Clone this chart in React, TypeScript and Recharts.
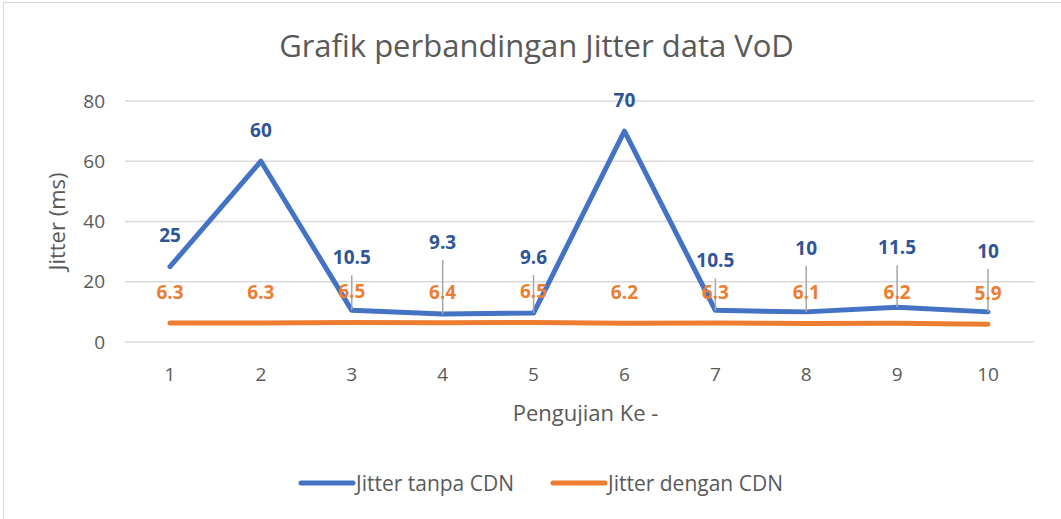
import { LineChart, Line, XAxis, YAxis, CartesianGrid, Legend, LabelList } from "recharts";

const pengujian = ["1", "2", "3", "4", "5", "6", "7", "8", "9", "10"];
const tanpaCdn = [25, 60, 10.5, 9.3, 9.6, 70, 10.5, 10, 11.5, 10];
const denganCdn = [6.3, 6.3, 6.5, 6.4, 6.5, 6.2, 6.3, 6.1, 6.2, 5.9];
const yTicks = [0, 20, 40, 60, 80];
const seriesNames = ["Jitter tanpa CDN", "Jitter dengan CDN"];

// how far above its point each blue label sits (px)
const blueLift = [32, 31, 53, 72, 56, 31, 50, 64, 60, 61];

const data = pengujian.map((name, i) => ({
  name,
  tanpa: tanpaCdn[i],
  dengan: denganCdn[i],
}));

const FONT = "'Open Sans', sans-serif";
const GREY = "#595959";

const BlueLabel = (props: any) => {
  const { x, y, value, index } = props;
  const lift = blueLift[index] ?? 32;
  const ly = y - lift;
  return (
    <g>
      {lift > 40 && (
        <line x1={x} y1={ly + 18} x2={x} y2={y} stroke="#a6a6a6" strokeWidth={1.5} />
      )}
      <text
        x={x}
        y={ly}
        dy="0.36em"
        textAnchor="middle"
        fill="#2f5597"
        fontFamily={FONT}
        fontWeight={700}
        fontSize={19}
      >
        {value}
      </text>
    </g>
  );
};

const OrangeLabel = (props: any) => {
  const { x, y, value } = props;
  return (
    <text
      x={x}
      y={y - 31}
      dy="0.36em"
      textAnchor="middle"
      fill="#ed7d31"
      fontFamily={FONT}
      fontWeight={700}
      fontSize={19}
    >
      {value}
    </text>
  );
};

const YTitle = (props: any) => {
  const { viewBox } = props;
  const cy = viewBox.y + viewBox.height / 2;
  return (
    <text
      x={57}
      y={cy}
      dy="0.36em"
      transform={`rotate(-90, 57, ${cy})`}
      textAnchor="middle"
      fill={GREY}
      fontFamily={FONT}
      fontSize={22}
    >
      Jitter (ms)
    </text>
  );
};

const XTitle = (props: any) => {
  const { viewBox } = props;
  const cx = viewBox.x + viewBox.width / 2;
  return (
    <text
      x={cx + 6}
      y={413}
      dy="0.36em"
      textAnchor="middle"
      fill={GREY}
      fontFamily={FONT}
      fontSize={22}
    >
      Pengujian Ke -
    </text>
  );
};

const LegendBox = (props: any) => {
  const items = [...props.payload].sort(
    (a: any, b: any) => seriesNames.indexOf(a.value) - seriesNames.indexOf(b.value)
  );
  return (
    <div style={{ display: "flex", justifyContent: "center", gap: 36, fontFamily: FONT, fontSize: 21, color: GREY, paddingLeft: 20 }}>
      {items.map((p: any) => (
        <div key={p.value} style={{ display: "flex", alignItems: "center" }}>
          <svg width={58} height={10}>
            <line x1={3} y1={5} x2={55} y2={5} stroke={p.color} strokeWidth={5} strokeLinecap="round" />
          </svg>
          <span>{p.value}</span>
        </div>
      ))}
    </div>
  );
};

export default function App() {
  return (
    <div style={{ position: "absolute", left: 0, top: 0, width: 1061, height: 519, background: "#fff", overflow: "hidden" }}>
      <div style={{ position: "absolute", left: 3, top: 2, width: 1100, height: 600, border: "1px solid #d9d9d9" }} />
      <div
        style={{
          position: "absolute",
          left: 0,
          top: 24,
          width: 1061,
          textAlign: "center",
          fontFamily: FONT,
          fontSize: 31,
          color: GREY,
          paddingLeft: 12,
          boxSizing: "border-box",
        }}
      >
        Grafik perbandingan Jitter data VoD
      </div>
      <LineChart
        width={1061}
        height={519}
        data={data}
        margin={{ top: 101, right: 27, left: 65, bottom: 97 }}
        style={{ position: "absolute", left: 0, top: 0 }}
      >
        <CartesianGrid vertical={false} stroke="#d9d9d9" strokeWidth={1.5} />
        <XAxis
          dataKey="name"
          axisLine={false}
          tickLine={false}
          height={80}
          tickMargin={20}
          padding={{ left: 45, right: 46 }}
          tick={{ fill: GREY, fontFamily: FONT, fontSize: 19 }}
          label={<XTitle />}
        />
        <YAxis
          domain={[0, 80]}
          ticks={yTicks}
          axisLine={false}
          tickLine={false}
          width={60}
          tickMargin={14}
          tick={{ fill: GREY, fontFamily: FONT, fontSize: 19 }}
          label={<YTitle />}
        />
        <Legend
          verticalAlign="middle"
          align="center"
          layout="horizontal"
          wrapperStyle={{ position: "absolute", top: 469, left: 0, width: 1061 }}
          content={<LegendBox />}
        />
        <Line
          type="linear"
          dataKey="tanpa"
          name={seriesNames[0]}
          stroke="#4472c4"
          strokeWidth={5}
          strokeLinecap="round"
          strokeLinejoin="round"
          dot={false}
          isAnimationActive={false}
        >
          <LabelList dataKey="tanpa" content={<BlueLabel />} />
        </Line>
        <Line
          type="linear"
          dataKey="dengan"
          name={seriesNames[1]}
          stroke="#ed7d31"
          strokeWidth={5}
          strokeLinecap="round"
          strokeLinejoin="round"
          dot={false}
          isAnimationActive={false}
        >
          <LabelList dataKey="dengan" content={<OrangeLabel />} />
        </Line>
      </LineChart>
    </div>
  );
}
